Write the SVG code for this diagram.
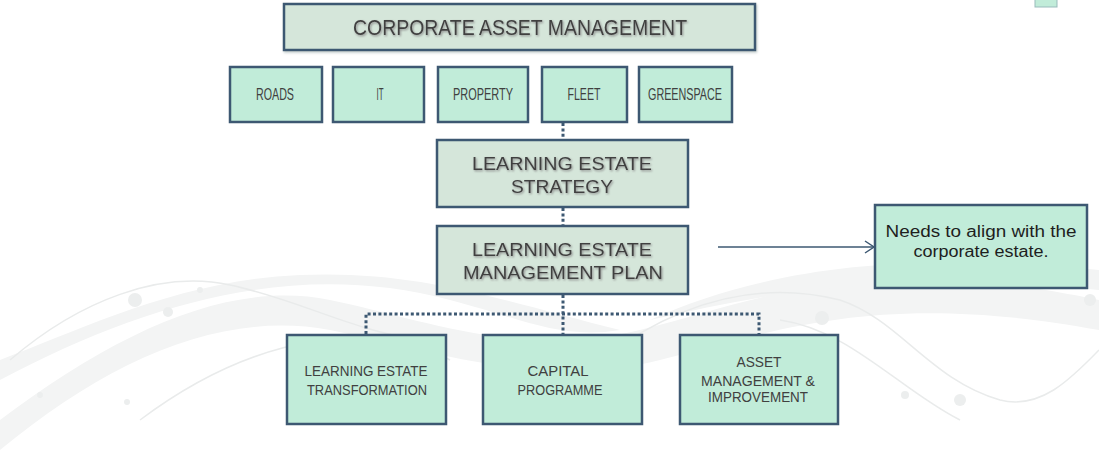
<svg xmlns="http://www.w3.org/2000/svg" width="1099" height="468" viewBox="0 0 1099 468">
<defs>
<style>
.box{stroke:#3d5872;stroke-width:2.5}
.grey{fill:#d5e6da}
.mint{fill:#c1ecd9}
.t{font-family:"Liberation Sans",Arial,sans-serif;fill:#404040;text-anchor:middle}
.big{filter:url(#sh)}
.dot{fill:none;stroke:#3d5872;stroke-width:3;stroke-dasharray:3 2.4}
.bg{fill:#f3f4f4}
.bgl{fill:none;stroke:#e9ebeb;stroke-width:1.5}
.bc{fill:#eceeee}
</style>
<filter id="sh" x="-10%" y="-30%" width="120%" height="160%">
<feDropShadow dx="1" dy="1.2" stdDeviation="0.8" flood-color="#8a8a8a"/>
</filter>
<filter id="bs" x="-5%" y="-5%" width="115%" height="120%">
<feDropShadow dx="1" dy="1.5" stdDeviation="1" flood-color="#9aa" flood-opacity="0.6"/>
</filter>
<marker id="arr" markerWidth="14" markerHeight="14" refX="12" refY="7" orient="auto" markerUnits="userSpaceOnUse">
<path d="M3,1 L12,7 L3,13" fill="none" stroke="#3d5872" stroke-width="1.5"/>
</marker>
</defs>
<rect width="1099" height="468" fill="#ffffff"/>
<g id="background">
<path class="bg" d="M0,420 C120,330 230,280 330,300 C420,318 520,360 640,330 C760,300 860,250 1099,300 L1099,330 C880,290 780,330 660,360 C540,390 430,350 330,330 C220,310 110,360 0,450 Z"/>
<path class="bg" d="M0,380 C150,300 300,260 450,300 C520,318 560,340 620,330 C500,300 420,270 300,275 C180,280 80,330 0,360 Z"/>
<path class="bg" d="M650,320 C760,270 900,250 1099,270 L1099,290 C900,270 780,290 650,320 Z"/>
<path class="bgl" d="M10,360 C80,300 160,270 230,285 C300,300 350,330 420,340"/>
<path class="bgl" d="M140,420 C260,330 380,320 450,360"/>
<path class="bgl" d="M600,360 C680,300 760,280 840,300 C900,320 930,380 1000,400 C1040,410 1070,380 1099,350"/>
<path class="bgl" d="M780,320 C850,330 900,390 960,420"/>
<circle cx="135" cy="300" r="7" class="bc"/>
<circle cx="168" cy="312" r="5" class="bc"/>
<circle cx="200" cy="290" r="3" class="bc"/>
<circle cx="822" cy="318" r="7" class="bc"/>
<circle cx="960" cy="400" r="6" class="bc"/>
<circle cx="905" cy="395" r="4" class="bc"/>
<circle cx="1090" cy="300" r="6" class="bc"/>
<circle cx="40" cy="395" r="3" class="bc"/>
<circle cx="127" cy="402" r="3" class="bc"/>
</g>
<g id="corner">
<rect x="1035" y="-10" width="22" height="17" class="mint" stroke="#9bb" stroke-width="1"/>
</g>
<g id="connectors">
<path class="dot" d="M563,123 V139"/>
<path class="dot" d="M563,208 V225"/>
<path class="dot" d="M563,295 V334"/>
<path class="dot" d="M366,334 V314 H759 V334"/>
<line x1="718" y1="247" x2="874" y2="247" stroke="#3d5872" stroke-width="1.5" marker-end="url(#arr)"/>
</g>
<g id="corporate">
<rect x="284" y="4" width="471" height="46" class="box grey" filter="url(#bs)"/>
<text class="t big" x="520" y="35" font-size="22" textLength="334" lengthAdjust="spacingAndGlyphs">CORPORATE ASSET MANAGEMENT</text>
</g>
<g id="roads">
<rect x="230" y="67" width="92" height="55" class="box mint"/>
<text class="t" x="275" y="100" font-size="16.5" textLength="38" lengthAdjust="spacingAndGlyphs">ROADS</text>
</g>
<g id="it">
<rect x="333" y="67" width="91" height="55" class="box mint"/>
<text class="t" x="380" y="100" font-size="16.5" textLength="7" lengthAdjust="spacingAndGlyphs">IT</text>
</g>
<g id="property">
<rect x="438" y="67" width="90" height="55" class="box mint"/>
<text class="t" x="483" y="100" font-size="16.5" textLength="60" lengthAdjust="spacingAndGlyphs">PROPERTY</text>
</g>
<g id="fleet">
<rect x="542" y="67" width="85" height="55" class="box mint"/>
<text class="t" x="584" y="100" font-size="16.5" textLength="33" lengthAdjust="spacingAndGlyphs">FLEET</text>
</g>
<g id="greenspace">
<rect x="639" y="67" width="93" height="55" class="box mint"/>
<text class="t" x="685" y="100" font-size="16.5" textLength="74" lengthAdjust="spacingAndGlyphs">GREENSPACE</text>
</g>
<g id="strategy">
<rect x="437" y="140" width="251" height="67" class="box grey"/>
<text class="t big" x="562" y="170" font-size="19" textLength="180" lengthAdjust="spacingAndGlyphs">LEARNING ESTATE</text>
<text class="t big" x="562" y="193" font-size="19" textLength="102" lengthAdjust="spacingAndGlyphs">STRATEGY</text>
</g>
<g id="plan">
<rect x="437" y="226" width="251" height="68" class="box grey"/>
<text class="t big" x="562" y="256" font-size="19" textLength="180" lengthAdjust="spacingAndGlyphs">LEARNING ESTATE</text>
<text class="t big" x="563" y="279" font-size="19" textLength="200" lengthAdjust="spacingAndGlyphs">MANAGEMENT PLAN</text>
</g>
<g id="note">
<rect x="875" y="205" width="212" height="83" class="box mint"/>
<text class="t" x="981" y="237" font-size="16" textLength="191" lengthAdjust="spacingAndGlyphs" style="fill:#1e1e1e">Needs to align with the</text>
<text class="t" x="981" y="257" font-size="16" textLength="135" lengthAdjust="spacingAndGlyphs" style="fill:#1e1e1e">corporate estate.</text>
</g>
<g id="transformation">
<rect x="287" y="335" width="159" height="89" class="box mint"/>
<text class="t" x="366" y="376" font-size="15.5" textLength="123" lengthAdjust="spacingAndGlyphs">LEARNING ESTATE</text>
<text class="t" x="367" y="395" font-size="15.5" textLength="120" lengthAdjust="spacingAndGlyphs">TRANSFORMATION</text>
</g>
<g id="capital">
<rect x="483" y="335" width="159" height="89" class="box mint"/>
<text class="t" x="558" y="376" font-size="15.5" textLength="61" lengthAdjust="spacingAndGlyphs">CAPITAL</text>
<text class="t" x="560" y="395" font-size="15.5" textLength="85" lengthAdjust="spacingAndGlyphs">PROGRAMME</text>
</g>
<g id="asset">
<rect x="680" y="335" width="158" height="89" class="box mint"/>
<text class="t" x="759" y="367" font-size="15.5" textLength="45" lengthAdjust="spacingAndGlyphs">ASSET</text>
<text class="t" x="758" y="386" font-size="15.5" textLength="114" lengthAdjust="spacingAndGlyphs">MANAGEMENT &amp;</text>
<text class="t" x="758" y="402" font-size="15.5" textLength="100" lengthAdjust="spacingAndGlyphs">IMPROVEMENT</text>
</g>
</svg>
